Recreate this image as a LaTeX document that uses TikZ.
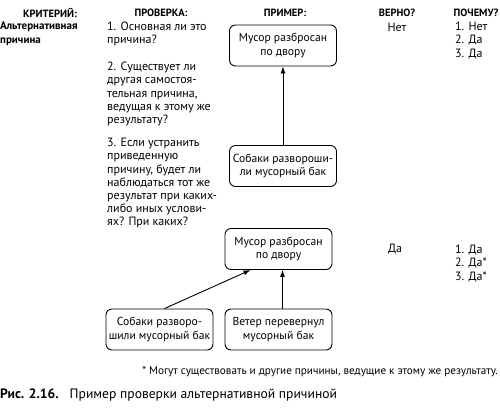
\documentclass[tikz,border=0pt]{standalone}
\usepackage{fontspec}
\setmainfont{PT Sans}
\usetikzlibrary{arrows.meta}
\begin{document}
\begin{tikzpicture}[x=1pt,y=-1pt,
    box/.style={draw, rounded corners=6pt, line width=0.9pt, minimum width=107pt, minimum height=41pt, align=center, inner sep=2pt, font=\fontsize{11.6}{13.5}\selectfont},
    head/.style={font=\fontsize{10.5}{13}\selectfont\bfseries},
    txt/.style={font=\fontsize{12}{13.2}\selectfont, align=left, inner sep=0pt},
    arr/.style={-{Latex[length=7pt,width=5pt]}, line width=0.9pt}]
    \useasboundingbox (0,0) rectangle (500,416);

    % column heads
    \node[head] (hcrit) at (50,13) {КРИТЕРИЙ:};
    \node[head] (hcheck) at (161,13) {ПРОВЕРКА:};
    \node[head] (hex) at (285,13) {ПРИМЕР:};
    \node[head] (htrue) at (397,13) {ВЕРНО?};
    \node[head] (hwhy) at (476,13) {ПОЧЕМУ?};

    \node[txt, font=\fontsize{11}{13.5}\selectfont\bfseries, anchor=north west] (crit) at (0,22) {Альтернативная\\причина};

    % questions
    \node[txt, anchor=north west] (q1) at (107,22) {1. Основная ли это\\причина?};
    \node[txt, anchor=north west] (q2) at (107,62) {2. Существует ли\\другая самостоя-\\тельная причина,\\ведущая к этому же\\результату?};
    \node[txt, anchor=north west] (q3) at (107,138) {3. Если устранить\\приведенную\\причину, будет ли\\наблюдаться тот же\\результат при каких-\\либо иных услови-\\ях? При каких?};

    % first example
    \node[box] (litter) at (283,45.5) {Мусор разбросан\\по двору};
    \node[box] (dogs) at (283,166) {Собаки разворош{}и-\\ли мусорный бак};
    \draw[arr] (dogs) -- (litter);

    \node[txt] (no) at (397,27) {Нет};
    \node[txt, anchor=north west] (why1) at (455,22) {1. Нет\\2. Да\\3. Да};

    % second example
    \node[box] (litter2) at (278.5,249) {Мусор разбросан\\по двору};
    \node[box] (dogs2) at (159.5,329.5) {Собаки разворо-\\шили мусорный бак};
    \node[box] (wind) at (278.5,329.5) {Ветер перевернул\\мусорный бак};
    \draw[arr] ([xshift=5pt]dogs2.north) -- ([xshift=-28pt]litter2.south);
    \draw[arr] ([xshift=4pt]wind.north) -- ([xshift=4pt]litter2.south);

    \node[txt] (yes) at (395,249) {Да};
    \node[txt, anchor=north west] (why2) at (455,245) {1. Да\\2. Да*\\3. Да*};

    \node[txt, font=\fontsize{11.2}{13}\selectfont, anchor=east] (note) at (498,372) {* Могут существовать и другие причины, ведущие к этому же результату.};
    \node[txt, anchor=west, font=\fontsize{13.6}{15}\selectfont] (caption) at (0,395) {\textbf{Рис. 2.16.}\hspace{11pt}Пример проверки альтернативной причиной};
\end{tikzpicture}
\end{document}
